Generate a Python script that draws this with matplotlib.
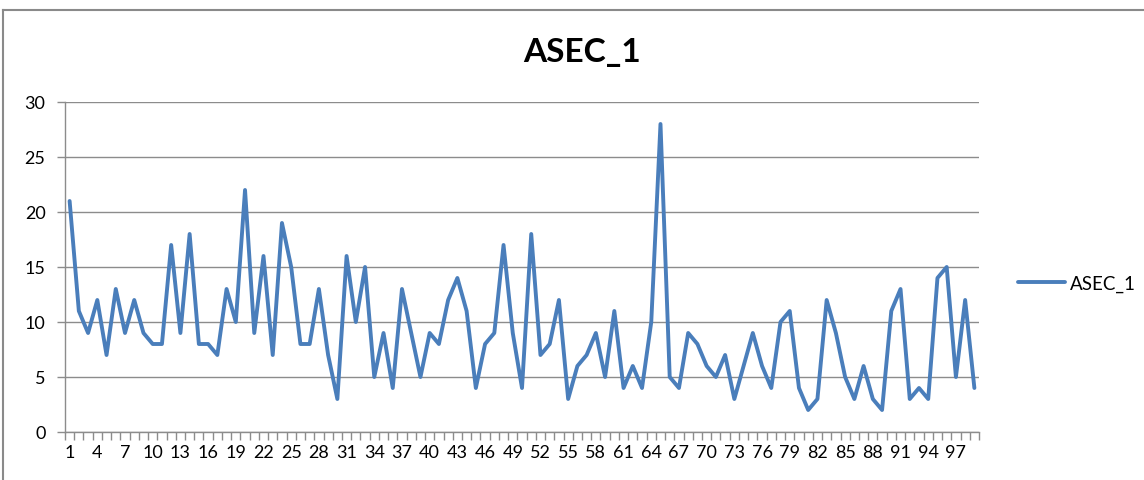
import matplotlib.pyplot as plt
from matplotlib.lines import Line2D
from matplotlib.ticker import FixedLocator, NullFormatter

# Values (one per category 1..99)
series_name = "ASEC_1"
values = [21, 11, 9, 12, 7, 13, 9, 12, 9, 8,
          8, 17, 9, 18, 8, 8, 7, 13, 10, 22,
          9, 16, 7, 19, 15, 8, 8, 13, 7, 3,
          16, 10, 15, 5, 9, 4, 13, 9, 5, 9,
          8, 12, 14, 11, 4, 8, 9, 17, 9, 4,
          18, 7, 8, 12, 3, 6, 7, 9, 5, 11,
          4, 6, 4, 10, 28, 5, 4, 9, 8, 6,
          5, 7, 3, 6, 9, 6, 4, 10, 11, 4,
          2, 3, 12, 9, 5, 3, 6, 3, 2, 11,
          13, 3, 4, 3, 14, 15, 5, 12, 4]
categories = list(range(1, len(values) + 1))
tick_labels = [str(c) for c in categories[::3]]
y_ticks = [0, 5, 10, 15, 20, 25, 30]

plt.rcParams['font.family'] = ['Lato', 'DejaVu Sans']

W, H = 1144, 481
fig = plt.figure(figsize=(W / 100, H / 100), dpi=100)
ax = fig.add_axes([65 / W, 1 - 433 / H, (979 - 65) / W, (433 - 103) / H])

line_color = '#4A7EBB'
grid_color = '#8C8C8C'

ax.plot(categories, values, color=line_color, linewidth=2.8,
        solid_joinstyle='round', solid_capstyle='round',
        label=series_name, zorder=3)

ax.set_xlim(0.5, len(values) + 0.5)
ax.set_ylim(0, 30)
ax.set_yticks(y_ticks)
ax.yaxis.grid(True, color=grid_color, linewidth=1.0)
ax.set_axisbelow(True)

# category labels every 3rd, tick marks on category boundaries
ax.xaxis.set_major_locator(FixedLocator(categories[::3]))
ax.set_xticklabels(tick_labels)
ax.xaxis.set_minor_locator(FixedLocator([c + 0.5 for c in range(0, len(values) + 1)]))
ax.xaxis.set_minor_formatter(NullFormatter())
ax.tick_params(axis='x', which='major', length=0, pad=9, labelsize=13)
ax.tick_params(axis='x', which='minor', length=6, color=grid_color, width=1)
ax.tick_params(axis='y', length=6, color=grid_color, width=1, pad=8, labelsize=13)

for side in ['top', 'right']:
    ax.spines[side].set_visible(False)
for side in ['left', 'bottom']:
    ax.spines[side].set_color(grid_color)
    ax.spines[side].set_linewidth(1.0)

# title
fig.text(582 / W, 1 - 53 / H, series_name, ha='center', va='center',
         fontsize=24, fontweight='bold')

# legend
ax.legend(loc='center left', bbox_to_anchor=(1018 / W, 1 - 284 / H),
          bbox_transform=fig.transFigure, frameon=False, fontsize=13.5,
          handlelength=2.5, handletextpad=0.25, borderpad=0, borderaxespad=0)

# chart area border (partly cut off)
border = '#8A8A8A'
fig.add_artist(Line2D([3 / W, 1.0], [1 - 11 / H, 1 - 11 / H], color=border,
                      linewidth=1.5, transform=fig.transFigure))
fig.add_artist(Line2D([3 / W, 3 / W], [0, 1 - 11 / H], color=border,
                      linewidth=1.5, transform=fig.transFigure))

fig.savefig('out.png', dpi=100)
